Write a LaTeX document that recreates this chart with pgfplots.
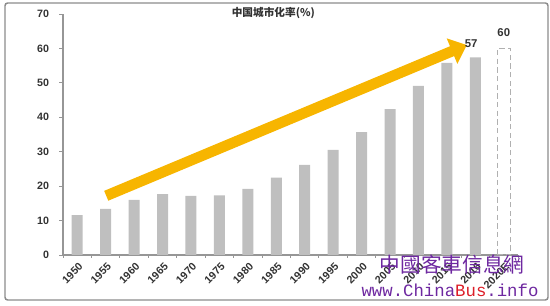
\documentclass[border=0pt]{standalone}
\usepackage{pgfplots}
\pgfplotsset{compat=1.18}
\usepackage{fontspec}
\setmainfont{Liberation Sans}
\newfontfamily\cjk{Noto Sans CJK SC}
\newfontfamily\cjktc{Noto Sans CJK TC}
\newfontfamily\mono{Liberation Mono}
\usetikzlibrary{arrows.meta}
\definecolor{bargray}{RGB}{191,191,191}
\definecolor{dashgray}{RGB}{176,176,176}
\definecolor{axisgray}{RGB}{150,150,150}
\definecolor{framegray}{RGB}{140,140,140}
\definecolor{labelgray}{RGB}{50,50,50}
\definecolor{arroworange}{RGB}{247,181,0}
\definecolor{wmpurple}{RGB}{110,40,160}
\definecolor{wmred}{RGB}{220,30,40}
\begin{document}
\begin{tikzpicture}
\path (0pt,0pt) rectangle (412.5pt,229.5pt);
\draw[framegray, line width=1.1pt, rounded corners=2pt] (3.75pt,4.5pt) rectangle (411pt,227.25pt);
\begin{axis}[
  at={(47.25pt,38.25pt)}, anchor=south west,
  scale only axis, width=341.25pt, height=180.75pt,
  xmin=-0.5, xmax=15.5, ymin=0, ymax=70,
  axis x line*=bottom, axis y line*=left,
  axis line style={axisgray, line width=0.9pt},
  ytick={0,10,...,70},
  xtick={0,...,15},
  xticklabels={1950,1955,1960,1965,1970,1975,1980,1985,1990,1995,2000,2005,2010,2015,2016,2020E},
  major x tick style={draw=none},
  minor xtick={-0.5,0.5,...,15.5},
  minor tick length=2pt,
  major tick length=3pt,
  tick align=outside,
  tick style={axisgray, line width=0.7pt},
  /pgf/number format/assume math mode=true,
  ticklabel style={font=\bfseries\fontsize{8}{9}\selectfont, text=labelgray},
  x tick label style={rotate=45, anchor=north east, inner sep=1pt, yshift=-1pt},
  y tick label style={xshift=-4pt},
]
\addplot[ybar, bar shift=0pt, bar width=8.25pt, fill=bargray, draw=none] coordinates {
(0,11.6) (1,13.4) (2,16.0) (3,17.7) (4,17.2) (5,17.3) (6,19.2) (7,22.5)
(8,26.2) (9,30.5) (10,35.7) (11,42.4) (12,49.1) (13,55.8) (14,57.4)};
\addplot[ybar, bar shift=0pt, bar width=9.75pt, fill=none, draw=dashgray, line width=1.1pt, dash pattern=on 4pt off 2.5pt] coordinates {(15,60)};
\draw[arroworange, line width=8pt, -{Triangle[length=12pt,width=20pt]}] (axis cs:1.02,17.2) -- (axis cs:13.7,61);
\node[anchor=south, font=\bfseries\fontsize{8.5}{9}\selectfont, text=labelgray] at (axis cs:13.85,58.8) {57};
\node[anchor=south, font=\bfseries\fontsize{8.5}{9}\selectfont, text=labelgray] at (axis cs:15,62.2) {60};
\end{axis}
\node[font=\cjk\bfseries\fontsize{8}{9}\selectfont, text=labelgray] at (205pt,219.5pt) {中国城市化率(\%)};
\node[font=\cjktc\fontsize{15.5}{16}\selectfont, text=wmpurple] at (339pt,30.75pt) {中國客車信息網};
\node[font=\mono\fontsize{13}{14}\selectfont, text=wmpurple] at (337.5pt,12pt) {www.China\textcolor{wmred}{Bus}.info};
\end{tikzpicture}
\end{document}
